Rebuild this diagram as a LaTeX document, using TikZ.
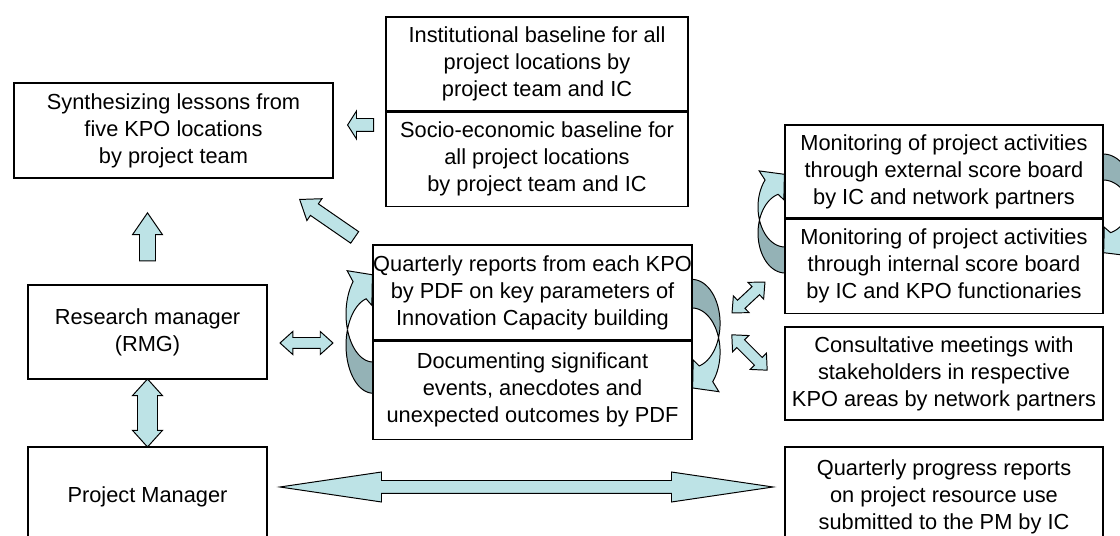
\documentclass[tikz,border=0pt]{standalone}
\usepackage{fontspec}
\setmainfont{Liberation Sans}
\usetikzlibrary{shapes.arrows}
\definecolor{arrowfill}{RGB}{189,227,230}
\definecolor{arrowdark}{RGB}{148,178,182}
\tikzset{
  box/.style={draw, line width=0.9pt, fill=white, align=center, inner sep=0pt,
    font=\fontsize{15.5}{19.2}\selectfont},
  blockarrow/.style={draw, line width=0.7pt, fill=arrowfill, inner xsep=0pt},
  pics/bendarrow/.style={code={
    % back side of the ribbon
    \draw[line width=0.7pt, fill=arrowdark]
      plot[domain=198.97:90, samples=25] ({27*cos(\x)},{26+40*sin(\x)})
      -- plot[domain=90:161.03, samples=25] ({27*cos(\x)},{40*sin(\x)}) -- cycle;
    % front side with the head
    \draw[line width=0.7pt, fill=arrowfill]
      plot[domain=161.03:222.4, samples=25] ({27*cos(\x)},{40*sin(\x)})
      -- (-25.85,-36.08) -- (-0.6,-32.7) -- (-1.15,-7.2)
      -- plot[domain=255.2:198.97, samples=25] ({27*cos(\x)},{26+40*sin(\x)}) -- cycle;
  }}
}
\begin{document}
\begin{tikzpicture}[x=0.025cm, y=-0.025cm]
  \useasboundingbox (0,0) rectangle (1120,536);
  \clip (0,0) rectangle (1120,536);

  % Curved arrows beside the split boxes
  \pic[yscale=1.2] at (373,314) {bendarrow};
  \pic[xscale=-1.04, yscale=-1.1] at (692,352) {bendarrow};
  \pic at (785,207) {bendarrow};
  \pic[xscale=-1.1, yscale=-1] at (1103,220) {bendarrow};

  % Top row
  \node[box, minimum width=79.75mm, minimum height=23.75mm] (synth) at (173.5,130.5)
    {Synthesizing lessons from\\five KPO locations\\by project team};
  \node[box, minimum width=75.5mm, minimum height=23.5mm] (inst) at (537,64)
    {Institutional baseline for all\\project locations by\\project team and IC};
  \node[box, minimum width=75.5mm, minimum height=23.5mm, anchor=north] (socio) at (inst.south)
    {Socio-economic baseline for\\all project locations\\by project team and IC};

  % Middle
  \node[box, minimum width=59.75mm, minimum height=23.5mm] (rmg) at (147.5,332)
    {Research manager\\(RMG)};
  \node[box, minimum width=79.75mm, minimum height=23.75mm] (qrep) at (532.5,292.5)
    {Quarterly reports from each KPO\\by PDF on key parameters of\\Innovation Capacity building};
  \node[box, minimum width=79.75mm, minimum height=24.5mm, anchor=north] (docu) at (qrep.south)
    {Documenting significant\\events, anecdotes and\\unexpected outcomes by PDF};

  % Right column
  \node[box, minimum width=79.5mm, minimum height=23.25mm] (mon1) at (944,171.5)
    {Monitoring of project activities\\through external score board\\by IC and network partners};
  \node[box, minimum width=79.5mm, minimum height=23.5mm, anchor=north] (mon2) at (mon1.south)
    {Monitoring of project activities\\through internal score board\\by IC and KPO functionaries};
  \node[box, minimum width=79.5mm, minimum height=23.25mm] (cons) at (944,373.5)
    {Consultative meetings with\\stakeholders in respective\\KPO areas by network partners};

  % Bottom row
  \node[box, minimum width=59.75mm, minimum height=25mm] (pm) at (147.5,497)
    {Project Manager};
  \node[box, minimum width=79.5mm, minimum height=25mm] (qprog) at (944,497)
    {Quarterly progress reports\\on project resource use\\submitted to the PM by IC};

  % Block arrows
  \node[blockarrow, single arrow, rotate=180, anchor=tip, minimum height=6.5mm,
    inner ysep=1.5mm, single arrow head extend=1.875mm, single arrow tip angle=115]
    (tosynth) at (347,125) {};
  \node[blockarrow, single arrow, rotate=145.4, anchor=tip, minimum height=16.7mm,
    inner ysep=1.625mm, single arrow head extend=1.56mm, single arrow tip angle=73]
    (diagsynth) at (299,199) {};
  \node[blockarrow, single arrow, rotate=90, anchor=tip, minimum height=12mm,
    inner ysep=1.875mm, single arrow head extend=1.75mm, single arrow tip angle=69]
    (upsynth) at (147.5,212) {};
  \node[blockarrow, double arrow, minimum height=13.25mm, inner ysep=1.25mm,
    double arrow head extend=1.5mm, double arrow tip angle=84]
    (rmgqrep) at (306.5,343) {};
  \node[blockarrow, double arrow, rotate=90, minimum height=17mm, inner ysep=2.375mm,
    double arrow head extend=1.25mm, double arrow tip angle=84]
    (rmgpm) at (147.5,413) {};
  \node[blockarrow, double arrow, minimum height=123.25mm, inner ysep=1.5mm,
    double arrow head extend=2.125mm, double arrow tip angle=16.8]
    (pmqprog) at (526.5,487) {};
  \node[blockarrow, double arrow, rotate=43, minimum height=11.25mm, inner ysep=1.25mm,
    double arrow head extend=1.5mm, double arrow tip angle=85]
    (midmon) at (748.5,297.5) {};
  \node[blockarrow, double arrow, rotate=-45, minimum height=12.5mm, inner ysep=1.25mm,
    double arrow head extend=1.5mm, double arrow tip angle=85]
    (midcons) at (749.5,352.5) {};
\end{tikzpicture}
\end{document}
